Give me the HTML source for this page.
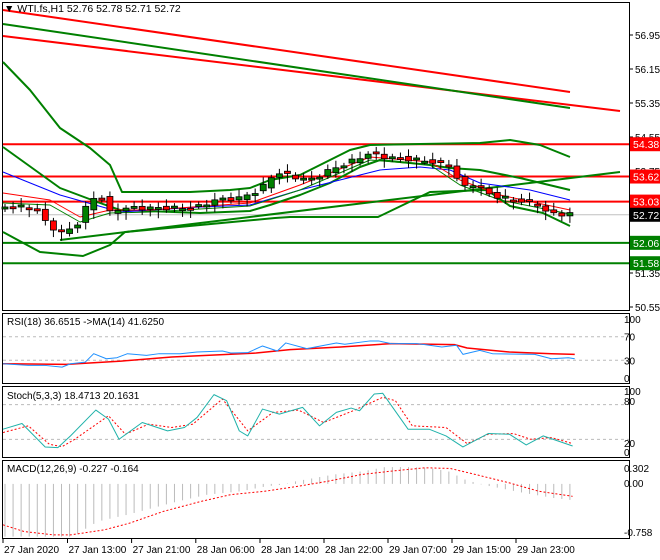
<!DOCTYPE html><html><head><meta charset="utf-8"><style>
body{margin:0;background:#fff}
svg{display:block;font-family:"Liberation Sans",sans-serif;font-size:10px}
</style></head><body>
<svg id="s" width="660" height="560" xmlns="http://www.w3.org/2000/svg"></svg>
<script>
const S=document.getElementById('s');const NS='http://www.w3.org/2000/svg';
function el(t,a,txt){const e=document.createElementNS(NS,t);for(const k in a)e.setAttribute(k,a[k]);if(txt!==undefined)e.textContent=txt;S.appendChild(e);return e;}
function pl(pts,c,w,dash){el('polyline',{points:pts.map(p=>p.join(',')).join(' '),fill:'none',stroke:c,'stroke-width':w||1,'stroke-dasharray':dash||'','stroke-linejoin':'round'});}
function interp(pts,x){if(x<=pts[0][0])return pts[0][1];for(let i=1;i<pts.length;i++){if(x<=pts[i][0]){const a=pts[i-1],b=pts[i];return a[1]+(b[1]-a[1])*(x-a[0])/(b[0]-a[0]);}}return pts[pts.length-1][1];}
const Z=(arr)=>arr.map(p=>[p[0]/2.37+3,300+p[1]/2.98]);
// frames
el('rect',{x:2.5,y:2.5,width:627,height:308,fill:'none',stroke:'#000'});
el('rect',{x:2.5,y:313.5,width:627,height:70,fill:'none',stroke:'#000'});
el('rect',{x:2.5,y:386.5,width:627,height:71,fill:'none',stroke:'#000'});
el('rect',{x:2.5,y:460.5,width:627,height:78,fill:'none',stroke:'#000'});
// price axis
const py=p=>35+(56.95-p)*42.5;
['56.95','56.15','55.35','54.55','53.75','52.95','52.15','51.35','50.55'].forEach(v=>{const y=py(+v);el('line',{x1:629,y1:y,x2:633,y2:y,stroke:'#000'});el('text',{x:635,y:y+4},v);});
// trend lines
pl([[3,10],[570,92]],'#f00',2);pl([[3,36],[620,111]],'#f00',2);pl([[3,24],[570,108]],'#008000',2);
// horizontal
[[54.38,'#f00'],[53.62,'#f00'],[53.03,'#f00'],[52.06,'#008000'],[51.58,'#008000']].forEach(h=>{const y=py(h[0]);el('line',{x1:3,y1:y,x2:629,y2:y,stroke:h[1],'stroke-width':2});});
el('line',{x1:3,y1:py(52.72),x2:629,y2:py(52.72),stroke:'#c0c0c0'});
// bands
pl([[3,62],[30,90],[60,128],[90,148],[110,165],[122,192],[190,192],[230,190],[250,188],[270,180],[300,175],[330,160],[350,150],[370,145],[420,144],[480,143],[510,140],[540,145],[570,157]],'#008000',2);
pl([[3,147],[60,188],[100,203],[120,210],[200,213],[250,211],[270,205],[300,195],[330,183],[360,167],[380,160],[430,165],[450,168],[480,170],[520,178],[570,190]],'#008000',2);
pl([[3,232],[40,252],[83,256],[110,245],[125,232],[275,218],[290,217],[378,217],[430,192],[487,190],[510,206],[543,213],[570,226]],'#008000',2);
pl([[60,240],[620,172]],'#008000',2);
// MAs
pl([[3,172],[60,195],[120,212],[200,207],[250,205],[300,190],[340,180],[380,170],[420,167],[450,170],[480,183],[530,190],[570,200]],'#00f',1);
pl([[3,193],[50,200],[80,217],[110,210],[150,210],[250,203],[300,185],[370,157],[430,162],[460,180],[500,195],[570,210]],'#f00',1);
pl([[3,203],[50,205],[80,222],[110,213],[150,212],[250,206],[300,190],[370,160],[430,165],[460,185],[500,200],[570,214]],'#008000',1);
// candles
const cp=[[3,207],[35,207],[45,222],[60,233],[75,228],[90,200],[100,195],[110,213],[120,208],[195,208],[215,200],[240,198],[255,192],[265,185],[275,172],[290,176],[310,180],[330,170],[350,162],[370,153],[385,157],[420,160],[450,165],[462,188],[475,183],[490,195],[540,205],[548,214],[570,214]];
for(let i=0;i<71;i++){const x=5+i*8.07;const c=interp(cp,x)+Math.sin(i*2.3)*2;const o=interp(cp,x-8)+Math.cos(i*1.7)*2;const hi=Math.min(o,c)-3-(i%3)*2,lo=Math.max(o,c)+3+(i%4)*2;
el('line',{x1:x,y1:hi,x2:x,y2:lo,stroke:'#000'});const bull=c<o;const top=Math.min(o,c),h=Math.max(2,Math.abs(o-c));
el('rect',{x:x-3,y:top,width:6,height:h,fill:bull?'#008000':'#f00',stroke:'#000','stroke-width':0.8});}
// labels
function box(y,v,bg){el('rect',{x:630,y:y-7,width:30,height:14,fill:bg});el('text',{x:633,y:y+4,fill:'#fff','font-size':'10.5'},v);}
box(py(54.38),'54.38','#f00');box(py(53.62),'53.62','#f00');box(py(53.03),'53.03','#f00');box(py(52.72),'52.72','#000');box(py(52.06),'52.06','#008000');box(py(51.58),'51.58','#008000');
el('text',{x:4,y:12,'font-size':'10.5'},'▼ WTI.fs,H1  52.76 52.78 52.71 52.72');
// RSI
const ry=v=>378-0.59*v;
[70,30].forEach(v=>el('line',{x1:3,y1:ry(v),x2:629,y2:ry(v),stroke:'#bbb','stroke-dasharray':'3,3'}));
[['100',100],['70',70],['30',30],['0',0]].forEach(a=>el('text',{x:624,y:ry(a[1])+4},a[0]));
pl(Z([[0,190],[150,192],[280,182],[400,170],[600,158],[680,148],[800,140],[920,130],[1070,133],[1100,143],[1200,155],[1300,160],[1355,162]]),'#f00',1.5);
pl(Z([[0,190],[60,195],[100,195],[140,200],[160,190],[195,185],[215,160],[245,175],[270,172],[295,160],[340,165],[370,160],[420,160],[460,155],[520,152],[540,158],[580,157],[615,137],[650,152],[670,128],[720,145],[790,128],[810,132],[870,122],[890,122],[920,130],[980,130],[1000,133],[1040,140],[1075,135],[1090,162],[1130,150],[1160,160],[1260,162],[1300,175],[1340,172],[1355,175]]),'#1e90ff',1);
el('text',{x:7,y:325},'RSI(18) 36.6515  ->MA(14) 41.6250');
// Stoch
const sy=v=>451-0.58*v;
[80,20].forEach(v=>el('line',{x1:3,y1:sy(v),x2:629,y2:sy(v),stroke:'#bbb','stroke-dasharray':'3,3'}));
[['100',395],['80',405],['20',447],['0',456]].forEach(a=>el('text',{x:624,y:a[1]},a[0]));
pl(Z([[0,395],[60,375],[110,430],[140,437],[170,415],[250,345],[290,400],[345,370],[400,380],[450,370],[520,295],[580,390],[640,335],[700,328],[760,365],[830,330],[900,290],[930,300],[970,375],[1050,380],[1100,428],[1150,400],[1210,398],[1250,415],[1300,410],[1350,428]]),'#f00',1,'2,2');
pl(Z([[0,385],[45,368],[100,438],[130,440],[160,405],[220,328],[250,355],[275,415],[330,365],[390,390],[430,380],[460,350],[500,282],[530,300],[560,390],[580,405],[615,325],[655,340],[710,320],[750,375],[790,335],[825,322],[845,330],[880,280],[900,278],[960,385],[1010,385],[1050,405],[1090,438],[1150,398],[1200,400],[1240,432],[1280,405],[1350,435]]),'#20b2aa',1);
el('text',{x:7,y:399},'Stoch(5,3,3) 18.4713 20.1631');
// MACD
const hist=[[0,705],[160,705],[180,690],[220,660],[290,640],[410,600],[480,580],[560,570],[620,555],[660,550],[690,540],[780,520],[850,510],[900,498],[960,498],[1000,500],[1050,510],[1090,535],[1130,550],[1170,560],[1230,575],[1300,590],[1355,598]];
const z0=300+548/2.98;
for(let i=0;i<71;i++){const zx=i*8.07*2.37;const zyv=interp(hist,zx);const yv=300+zyv/2.98;const x=3+i*8.07+2;el('line',{x1:x,y1:z0,x2:x,y2:yv,stroke:'#bbb'});}
pl(Z([[0,670],[50,690],[120,700],[160,700],[240,685],[300,665],[380,630],[470,600],[540,580],[620,570],[700,555],[770,540],[850,520],[920,510],[1000,500],[1060,502],[1120,520],[1200,545],[1270,570],[1350,585]]),'#f00',1,'2,2');
el('text',{x:624,y:472},'0.302');el('text',{x:624,y:487},'0.00');el('text',{x:624,y:536},'-0.758');
el('text',{x:7,y:472},'MACD(12,26,9) -0.227 -0.164');
// time axis
[[3,'27 Jan 2020'],[67.5,'27 Jan 13:00'],[131.6,'27 Jan 21:00'],[195.8,'28 Jan 06:00'],[260,'28 Jan 14:00'],[324,'28 Jan 22:00'],[388,'29 Jan 07:00'],[452,'29 Jan 15:00'],[516,'29 Jan 23:00']].forEach(t=>{el('line',{x1:t[0],y1:539,x2:t[0],y2:543,stroke:'#000'});el('text',{x:t[0]+1,y:553},t[1]);});
</script></body></html>
